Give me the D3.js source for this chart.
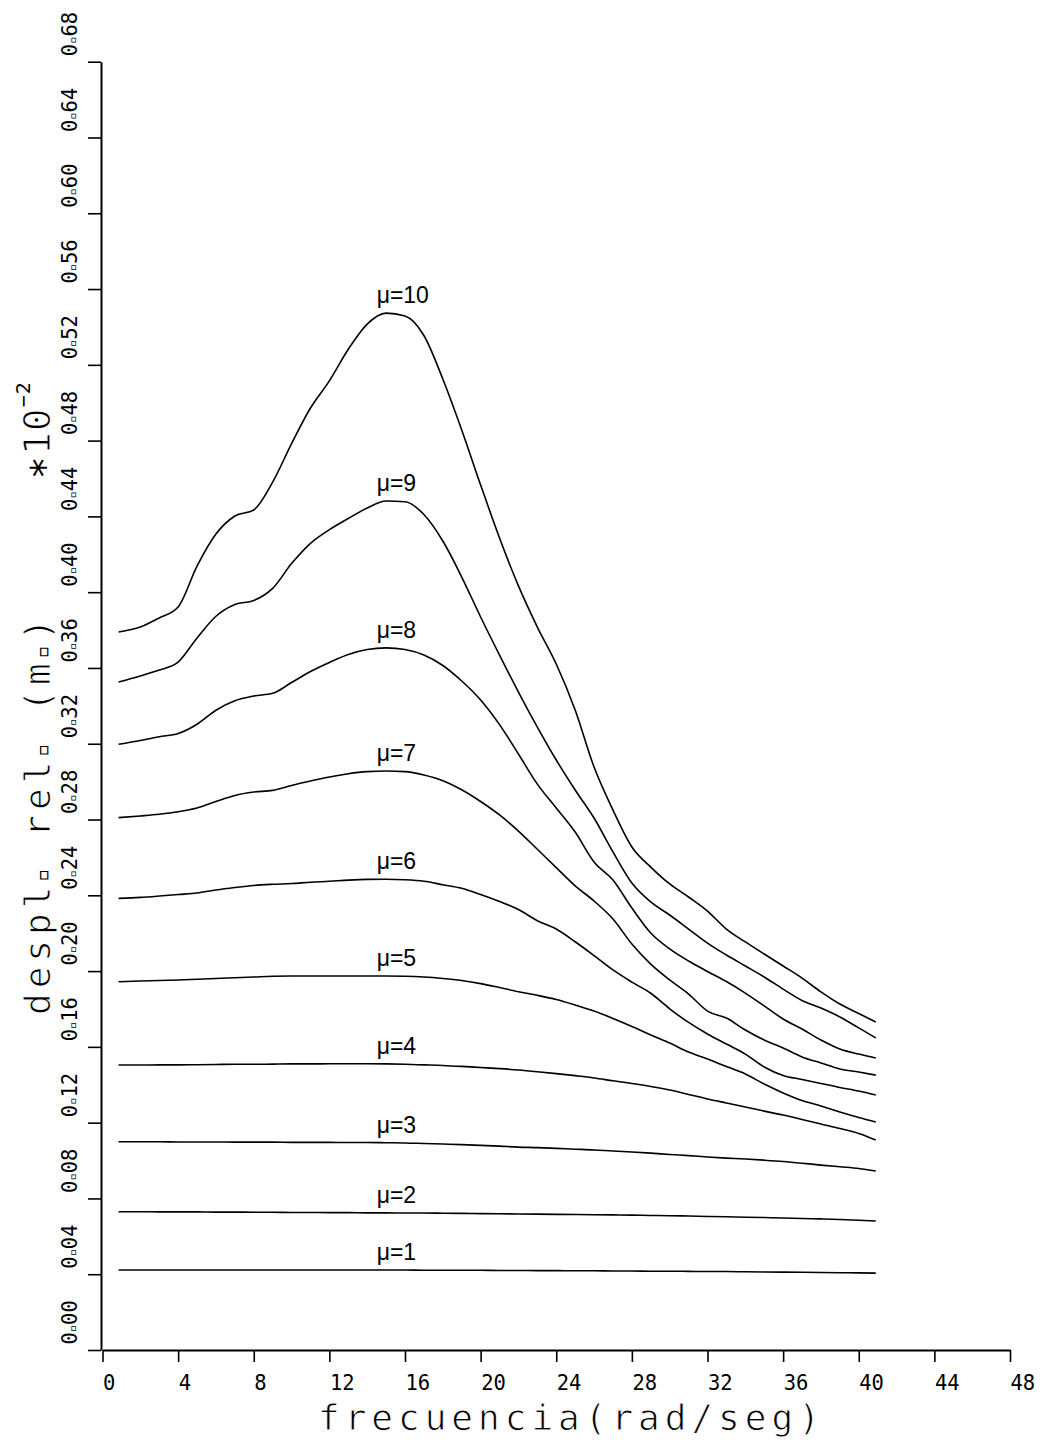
<!DOCTYPE html>
<html>
<head>
<meta charset="utf-8">
<script src="https://cdn.jsdelivr.net/npm/d3@7"></script>
<style>
  body { margin: 0; background: #fff; }
  svg { display: block; }
  .tick text { font-family: "DejaVu Sans Mono", monospace; font-size: 20.5px; fill: #000; }
  .title { font-family: "DejaVu Sans Mono", monospace; font-size: 36px; fill: #000;
           stroke: #fff; stroke-width: 0.9px; letter-spacing: 5px; }
  .title .sq { stroke: none; }
  .note { font-family: "DejaVu Sans Mono", monospace; font-size: 38px; fill: #000; letter-spacing: 1px; }
  .note .digits { stroke: #fff; stroke-width: 1.1px; }
  .mu { font-family: "Liberation Sans", Arial, sans-serif; font-size: 23px; fill: #000; }
</style>
</head>
<body>
<svg id="chart" width="1043" height="1442"></svg>
<script>
// frecuencia (rad/seg)
let freq = [0.85, 2, 3, 4, 5, 6, 7, 8, 9, 10, 11, 12, 13, 14, 15, 16, 17, 18, 19, 20,
            21, 22, 23, 24, 25, 26, 27, 28, 29, 30, 31, 32, 33, 34, 35, 36, 37, 38, 39, 40, 40.9];

// despl. rel. (m.) *10^-2, one list per mu
let mu1 = [0.0422, 0.0422, 0.0422, 0.0422, 0.0422, 0.0422, 0.0422, 0.0422, 0.0422, 0.0422,
           0.0422, 0.0422, 0.0422, 0.0422, 0.0422, 0.0422, 0.0421, 0.0421, 0.0421, 0.0421,
           0.0420, 0.0420, 0.0419, 0.0419, 0.0418, 0.0418, 0.0417, 0.0417, 0.0416, 0.0416,
           0.0415, 0.0414, 0.0414, 0.0413, 0.0412, 0.0411, 0.0410, 0.0409, 0.0408, 0.0407, 0.0406];
let mu2 = [0.0730, 0.0730, 0.0729, 0.0729, 0.0729, 0.0728, 0.0728, 0.0727, 0.0727, 0.0726,
           0.0726, 0.0725, 0.0725, 0.0724, 0.0724, 0.0723, 0.0723, 0.0722, 0.0721, 0.0720,
           0.0719, 0.0718, 0.0717, 0.0716, 0.0715, 0.0714, 0.0713, 0.0712, 0.0710, 0.0709,
           0.0707, 0.0705, 0.0703, 0.0701, 0.0699, 0.0697, 0.0694, 0.0692, 0.0689, 0.0685, 0.0681];
let mu3 = [0.1099, 0.1099, 0.1099, 0.1098, 0.1098, 0.1098, 0.1097, 0.1097, 0.1097, 0.1096,
           0.1096, 0.1096, 0.1095, 0.1095, 0.1094, 0.1093, 0.1090, 0.1087, 0.1084, 0.1080,
           0.1076, 0.1071, 0.1068, 0.1064, 0.1060, 0.1056, 0.1050, 0.1045, 0.1039, 0.1032,
           0.1026, 0.1019, 0.1013, 0.1008, 0.1002, 0.0995, 0.0986, 0.0976, 0.0967, 0.0958, 0.0945];
let mu4 = [0.1504, 0.1504, 0.1505, 0.1505, 0.1506, 0.1507, 0.1508, 0.1508, 0.1509, 0.1510,
           0.1510, 0.1511, 0.1511, 0.1511, 0.1510, 0.1508, 0.1505, 0.1502, 0.1497, 0.1491,
           0.1485, 0.1478, 0.1469, 0.1459, 0.1448, 0.1436, 0.1421, 0.1407, 0.1391, 0.1372,
           0.1349, 0.1325, 0.1304, 0.1283, 0.1261, 0.1240, 0.1217, 0.1193, 0.1169, 0.1143, 0.1108];
let mu5 = [0.1944, 0.1948, 0.1950, 0.1953, 0.1957, 0.1961, 0.1965, 0.1969, 0.1973, 0.1974,
           0.1974, 0.1974, 0.1974, 0.1974, 0.1974, 0.1973, 0.1969, 0.1961, 0.1950, 0.1934,
           0.1913, 0.1891, 0.1872, 0.1850, 0.1821, 0.1789, 0.1750, 0.1708, 0.1663, 0.1620,
           0.1573, 0.1536, 0.1496, 0.1457, 0.1404, 0.1357, 0.1317, 0.1288, 0.1256, 0.1227, 0.1203];
let mu6 = [0.2384, 0.2389, 0.2396, 0.2404, 0.2412, 0.2428, 0.2441, 0.2452, 0.2458, 0.2462,
           0.2469, 0.2474, 0.2480, 0.2484, 0.2485, 0.2482, 0.2474, 0.2456, 0.2437, 0.2404,
           0.2367, 0.2325, 0.2266, 0.2222, 0.2155, 0.2082, 0.2006, 0.1942, 0.1883, 0.1801,
           0.1729, 0.1668, 0.1615, 0.1562, 0.1494, 0.1449, 0.1428, 0.1407, 0.1386, 0.1367, 0.1346];
let mu7 = [0.2810, 0.2819, 0.2828, 0.2841, 0.2861, 0.2895, 0.2927, 0.2945, 0.2954, 0.2980,
           0.3003, 0.3024, 0.3042, 0.3053, 0.3056, 0.3053, 0.3035, 0.3005, 0.2957, 0.2895,
           0.2824, 0.2739, 0.2643, 0.2546, 0.2450, 0.2370, 0.2275, 0.2143, 0.2037, 0.1953,
           0.1879, 0.1789, 0.1752, 0.1689, 0.1636, 0.1594, 0.1547, 0.1515, 0.1483, 0.1467, 0.1451];
let mu8 = [0.3197, 0.3217, 0.3237, 0.3254, 0.3303, 0.3377, 0.3427, 0.3452, 0.3466, 0.3523,
           0.3581, 0.3629, 0.3671, 0.3697, 0.3706, 0.3697, 0.3668, 0.3613, 0.3531, 0.3431,
           0.3301, 0.3146, 0.2987, 0.2861, 0.2734, 0.2576, 0.2481, 0.2333, 0.2201, 0.2117,
           0.2053, 0.1998, 0.1945, 0.1884, 0.1816, 0.1747, 0.1694, 0.1636, 0.1589, 0.1562, 0.1541];
let mu9 = [0.3526, 0.3558, 0.3589, 0.3631, 0.3758, 0.3873, 0.3935, 0.3956, 0.4020, 0.4151,
           0.4258, 0.4330, 0.4389, 0.4444, 0.4481, 0.4477, 0.4410, 0.4270, 0.4080, 0.3869,
           0.3668, 0.3473, 0.3288, 0.3114, 0.2956, 0.2808, 0.2629, 0.2465, 0.2365, 0.2296,
           0.2222, 0.2148, 0.2085, 0.2027, 0.1969, 0.1905, 0.1845, 0.1805, 0.1758, 0.1700, 0.1647];
let mu10 = [0.3790, 0.3816, 0.3864, 0.3922, 0.4138, 0.4307, 0.4402, 0.4434, 0.4581, 0.4784,
            0.4972, 0.5115, 0.5282, 0.5415, 0.5473, 0.5458, 0.5355, 0.5125, 0.4856, 0.4566,
            0.4286, 0.4033, 0.3816, 0.3621, 0.3378, 0.3077, 0.2850, 0.2655, 0.2549, 0.2460,
            0.2391, 0.2317, 0.2222, 0.2154, 0.2090, 0.2027, 0.1963, 0.1890, 0.1826, 0.1776, 0.1731];

let seriesList = [mu1, mu2, mu3, mu4, mu5, mu6, mu7, mu8, mu9, mu10];
let seriesNames = ["μ=1", "μ=2", "μ=3", "μ=4", "μ=5", "μ=6", "μ=7", "μ=8", "μ=9", "μ=10"];

let xTicks = [0, 4, 8, 12, 16, 20, 24, 28, 32, 36, 40, 44, 48];
let xTickLabels = ["0", "4", "8", "12", "16", "20", "24", "28", "32", "36", "40", "44", "48"];
let yTicks = [0, 0.04, 0.08, 0.12, 0.16, 0.20, 0.24, 0.28, 0.32, 0.36, 0.40, 0.44, 0.48,
              0.52, 0.56, 0.60, 0.64, 0.68];
let yTickLabels = ["0▫00", "0▫04", "0▫08", "0▫12", "0▫16", "0▫20", "0▫24", "0▫28", "0▫32",
                   "0▫36", "0▫40", "0▫44", "0▫48", "0▫52", "0▫56", "0▫60", "0▫64", "0▫68"];
let labelFreq = 14.5;   // where the mu labels start

let svg = d3.select("#chart");

let xScale = d3.scaleLinear().domain([0, 48]).range([102.5, 1010]);
let yScale = d3.scaleLinear().domain([0, 0.68]).range([1350, 61.7]);

// writes a string into a text node, the little plotter squares get their own tspan
let writeText = (sel, str, sqSize) => {
  sel.text(null);
  str.split(/(▫)/).forEach((part) => {
    if (part === "") return;
    let t = sel.append("tspan").text(part);
    if (part === "▫") t.attr("class", "sq").style("font-size", sqSize + "px");
  });
};

// x axis
let xAxis = svg.append("g")
  .attr("transform", "translate(0,1350)")
  .call(d3.axisBottom(xScale)
    .tickValues(xTicks)
    .tickSize(12)
    .tickSizeOuter(0)
    .tickFormat((d, i) => xTickLabels[i]));
xAxis.select(".domain").attr("stroke", "#000").attr("stroke-width", 2);
xAxis.selectAll(".tick line").attr("stroke", "#000").attr("stroke-width", 1.6);
xAxis.selectAll(".tick text")
  .attr("text-anchor", "start")
  .attr("x", 0)
  .attr("y", 40)
  .attr("dy", null);

// y axis
let yAxis = svg.append("g")
  .attr("transform", "translate(101,0)")
  .call(d3.axisLeft(yScale)
    .tickValues(yTicks)
    .tickSize(13)
    .tickSizeOuter(0)
    .tickFormat((d, i) => yTickLabels[i]));
yAxis.select(".domain").attr("stroke", "#000").attr("stroke-width", 2);
yAxis.selectAll(".tick line").attr("stroke", "#000").attr("stroke-width", 1.6);
yAxis.selectAll(".tick text")
  .attr("text-anchor", "start")
  .attr("x", 0)
  .attr("y", 0)
  .attr("dy", null)
  .attr("transform", "translate(-24,-6) rotate(-90)")
  .each(function (d, i) { writeText(d3.select(this), yTickLabels[i], 12); });

// curves
let line = d3.line()
  .x((d) => xScale(d[0]))
  .y((d) => yScale(d[1]))
  .curve(d3.curveMonotoneX);

svg.append("g")
  .selectAll("path")
  .data(seriesList)
  .enter()
  .append("path")
  .attr("fill", "none")
  .attr("stroke", "#000")
  .attr("stroke-width", 1.6)
  .attr("d", (s) => line(freq.map((f, i) => [f, s[i]])));

// mu labels sit just above each curve near its peak
let peakIndex = freq.indexOf(15);
svg.append("g")
  .selectAll("text")
  .data(seriesList)
  .enter()
  .append("text")
  .attr("class", "mu")
  .attr("x", xScale(labelFreq))
  .attr("y", (s) => yScale(s[peakIndex]) - 10)
  .text((s, i) => seriesNames[i]);

// axis titles
svg.append("text")
  .attr("class", "title")
  .attr("x", 318)
  .attr("y", 1430)
  .text("frecuencia(rad/seg)");

let yTitle = svg.append("text")
  .attr("class", "title")
  .attr("transform", "translate(50,1015) rotate(-90)");
writeText(yTitle, "despl▫ rel▫ (m▫)", 22);

let scaleNote = svg.append("text")
  .attr("class", "note")
  .attr("transform", "translate(50,479) rotate(-90)");
scaleNote.append("tspan").text("∗");
scaleNote.append("tspan").attr("class", "digits").text("10");
scaleNote.append("tspan")
  .attr("dy", -20)
  .style("font-size", "20px")
  .text("−2");
</script>
</body>
</html>
